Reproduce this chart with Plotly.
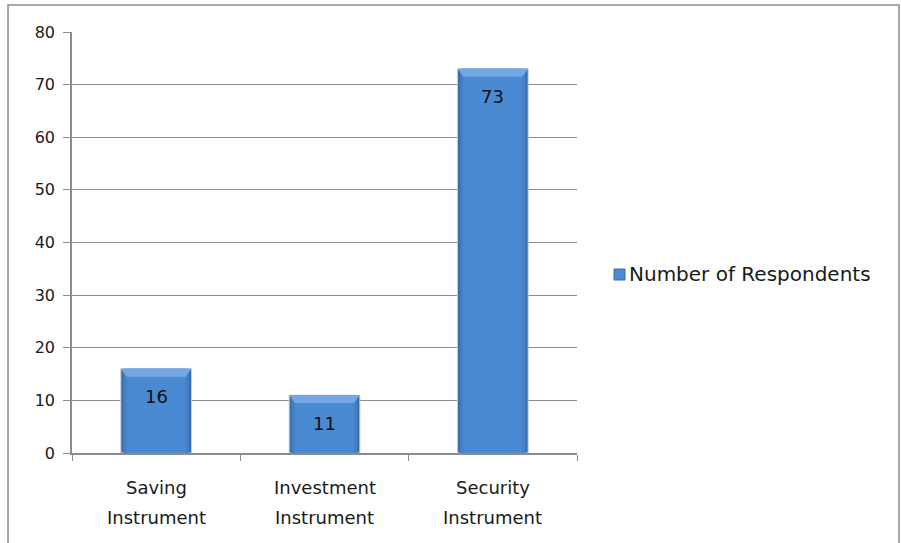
import plotly.graph_objects as go

categories = ["Saving Instrument", "Investment Instrument", "Security Instrument"]
respondents = [16, 11, 73]
series_name = "Number of Respondents"
y_ticks = [0, 10, 20, 30, 40, 50, 60, 70, 80]

FONT = "DejaVu Sans"
BAR_EDGE = "#3A6DAE"
BAR_MID = "#4380C6"
BAR_FACE = "#4A8AD2"
BAR_TOP = "#74A8E4"
GRID = "#8C8C8C"
TEXT = "#1a1a1a"

x_pos = list(range(len(categories)))
OUTER_W = 0.42
MID_W = 0.39
INNER_W = 0.35
BEVEL = 1.5  # data units

fig = go.Figure()
# layered bodies give the bars a rounded, shaded look
fig.add_trace(go.Bar(x=x_pos, y=respondents, width=OUTER_W, name=series_name,
                     marker=dict(color=BAR_EDGE, line=dict(color="#C8CED6", width=1)),
                     showlegend=False, hoverinfo="y"))
fig.add_trace(go.Bar(x=x_pos, y=respondents, width=MID_W, name=series_name,
                     marker=dict(color=BAR_MID, line=dict(width=0)),
                     showlegend=False, hoverinfo="skip"))
fig.add_trace(go.Bar(x=x_pos, y=respondents, width=INNER_W, name=series_name,
                     marker=dict(color=BAR_FACE, line=dict(width=0)),
                     showlegend=False, hoverinfo="skip"))

annotations = []
shapes = []
for i, v in zip(x_pos, respondents):
    # top bevel of each bar
    h = OUTER_W / 2
    w = INNER_W / 2
    shapes.append(dict(
        type="path", xref="x", yref="y", layer="above",
        path=f"M {i-h} {v} L {i+h} {v} L {i+w} {v-BEVEL} L {i-w} {v-BEVEL} Z",
        fillcolor=BAR_TOP, line=dict(width=0)))
    # value label just under the top of the bar
    annotations.append(dict(x=i, y=v, xref="x", yref="y", text=str(v),
                            showarrow=False, yshift=-28,
                            font=dict(family=FONT, size=18, color="#111111")))
    # two-line category label
    words = categories[i].split(" ")
    for k, word in enumerate(words):
        annotations.append(dict(x=i, y=0, xref="x", yref="y", text=word,
                                showarrow=False, yanchor="middle",
                                yshift=-34 - 30 * k,
                                font=dict(family=FONT, size=18, color=TEXT)))

# legend swatch and label
shapes.append(dict(type="rect", xref="paper", yref="paper",
                   x0=(614 - 72) / 505, x1=(625 - 72) / 505,
                   y0=(453 - 280) / 421, y1=(453 - 269) / 421,
                   fillcolor=BAR_FACE, line=dict(color=BAR_EDGE, width=1)))
annotations.append(dict(x=(627 - 72) / 505, y=(453 - 274) / 421,
                        xref="paper", yref="paper", xanchor="left", yanchor="middle",
                        text=series_name, showarrow=False,
                        font=dict(family=FONT, size=20, color=TEXT)))

# outer chart frame
shapes.append(dict(type="rect", xref="paper", yref="paper",
                   x0=-0.1267, x1=1.6376, y0=-0.3, y1=1.064,
                   line=dict(color="#8C8C8C", width=1.5),
                   fillcolor="rgba(0,0,0,0)", layer="below"))

fig.update_layout(
    width=901, height=543,
    margin=dict(l=72, r=324, t=32, b=90),
    paper_bgcolor="white", plot_bgcolor="white",
    font=dict(family=FONT, size=16, color=TEXT),
    barmode="overlay",
    showlegend=False,
    shapes=shapes,
    annotations=annotations,
    xaxis=dict(range=[-0.5, 2.5], tickvals=[-0.5, 0.5, 1.5, 2.5], ticktext=["", "", "", ""],
               showline=True, linecolor=GRID, linewidth=1.5,
               ticks="outside", ticklen=6, tickcolor=GRID, showgrid=False,
               zeroline=False),
    yaxis=dict(range=[0, 80], tickvals=y_ticks, showline=True, linecolor=GRID,
               linewidth=1.5, ticks="outside", ticklen=7, tickcolor=GRID,
               gridcolor=GRID, gridwidth=1, zeroline=False,
               tickfont=dict(family=FONT, size=16, color=TEXT), ticklabelstandoff=5),
)

fig.write_html("out.html")
